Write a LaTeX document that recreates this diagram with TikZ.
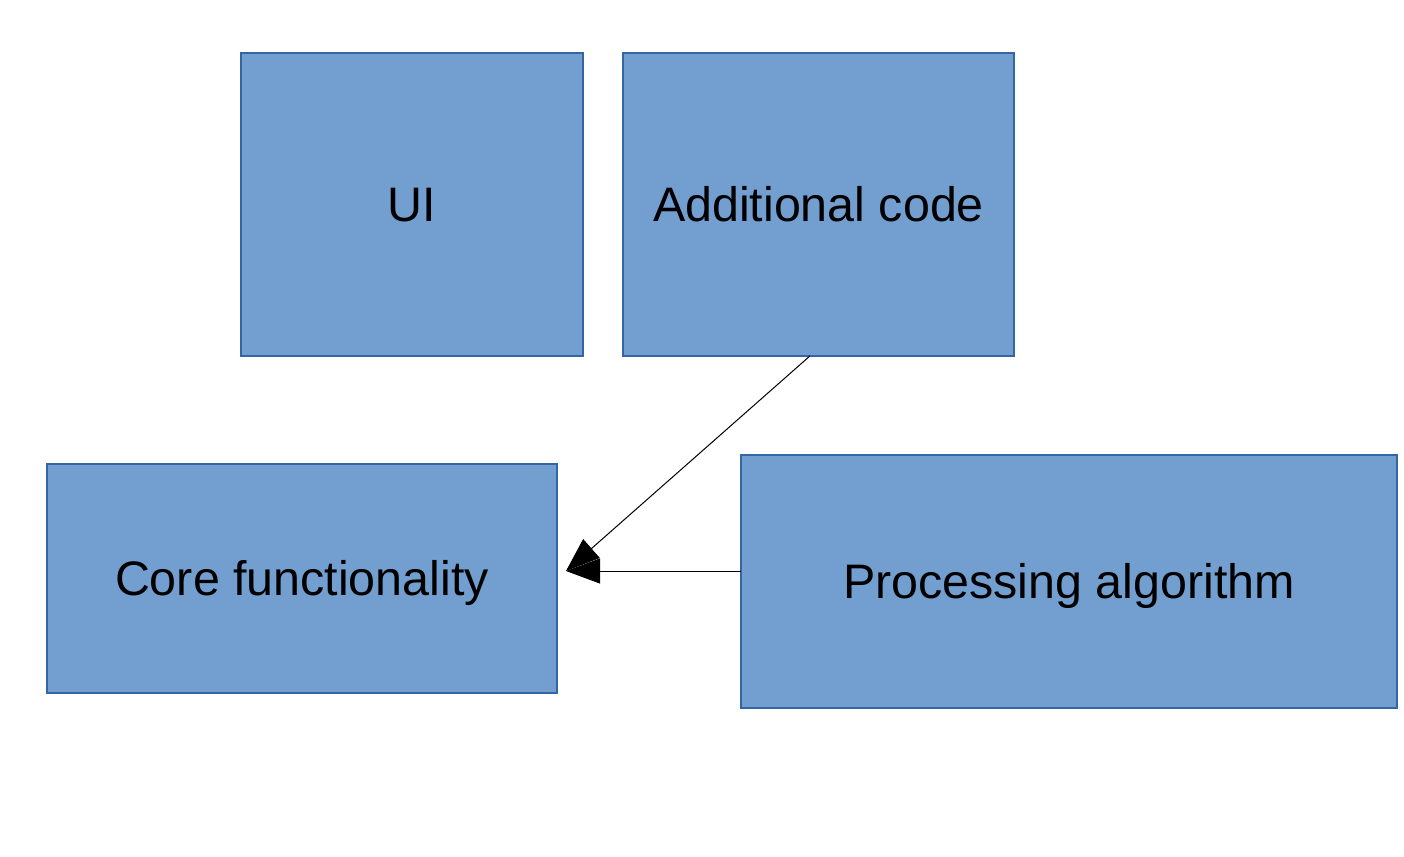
\documentclass[tikz,border=0pt]{standalone}
\usepackage{fontspec}
\setmainfont{Liberation Sans}
\usetikzlibrary{arrows.meta,calc}
\definecolor{boxfill}{HTML}{729FCF}
\definecolor{boxline}{HTML}{3465A4}
\begin{document}
\begin{tikzpicture}[x=0.5pt,y=-0.5pt,
  box/.style={draw=boxline,fill=boxfill,line width=0.6pt,inner sep=0pt,outer sep=0pt,
    text height=17.5pt,text depth=0.5pt,
    font=\fontsize{24.2}{29}\selectfont,text=black},
  conn/.style={draw=black,line width=0.5pt,-{Triangle[length=17pt,width=12.5pt]},shorten >=0pt}]
\useasboundingbox[fill=white] (0,0) rectangle (1404,857);
\node[box,minimum width=171pt,minimum height=151.5pt] (ui) at (412,204.5) {UI};
\node[box,minimum width=195.5pt,minimum height=151.5pt] (add) at (818.5,204.5) {Additional code};
\node[box,minimum width=255pt,minimum height=114.5pt] (core) at (302,578.5) {Core functionality};
\node[box,minimum width=328pt,minimum height=126.5pt] (proc) at (1069,581.5) {Processing algorithm};
\coordinate (tip) at (566,571);
\coordinate (adds) at ($(add.south west)!0.478!(add.south east)$);
\draw[conn] (adds) -- (tip);
\draw[conn] (proc.west |- tip) -- (tip);
\end{tikzpicture}
\end{document}
